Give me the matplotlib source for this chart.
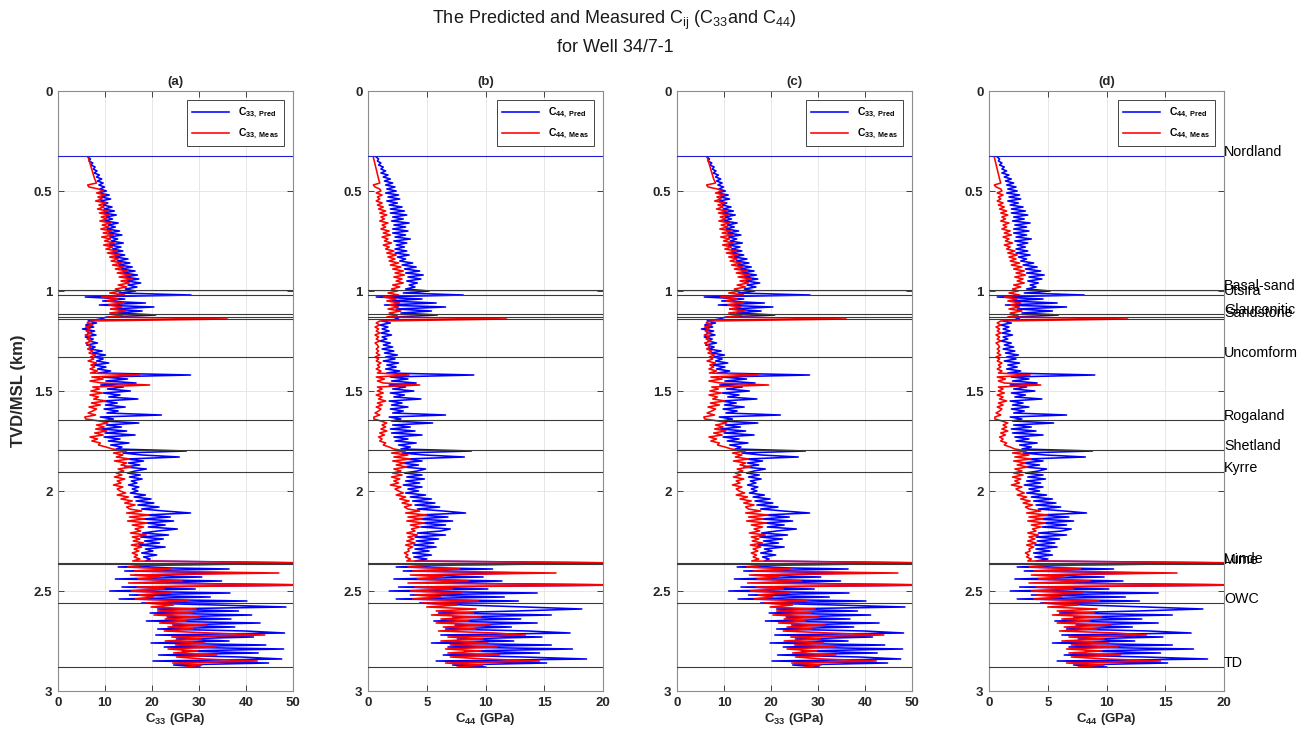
import numpy as np
import matplotlib
matplotlib.use("Agg")
import matplotlib.pyplot as plt
from matplotlib.transforms import blended_transform_factory

plt.rcParams['font.family'] = ['Liberation Sans', 'DejaVu Sans']
plt.rcParams['mathtext.fontset'] = 'custom'
plt.rcParams['mathtext.rm'] = 'Liberation Sans'
plt.rcParams['mathtext.it'] = 'Liberation Sans'
plt.rcParams['mathtext.bf'] = 'Liberation Sans:bold'

# ---- log samples (TVD/MSL in km) ----
depth_pred = np.round(np.arange(0.33, 2.885, 0.01), 2)
depth_meas = np.concatenate([[0.33, 0.44], np.round(np.arange(0.46, 2.885, 0.01), 2)])

c33_pred = [
    6.4, 6.9, 6.6, 7.4, 7.0, 7.9, 7.5,
    8.3, 7.7, 8.8, 8.2, 9.3, 8.4, 9.6, 8.7, 9.9, 8.9,
    10.3, 8.6, 10.9, 9.2, 11.2, 9.0, 10.6, 9.6, 11.5, 9.8,
    12.0, 9.6, 12.4, 10.2, 11.6, 9.9, 12.8, 10.7, 12.2, 10.4,
    13.1, 10.8, 13.6, 11.0, 12.7, 11.3, 13.9, 10.9, 13.4, 11.6,
    13.8, 11.4, 14.2, 12.1, 14.9, 12.6, 15.3, 12.9, 15.8, 13.4,
    16.4, 13.8, 16.9, 14.2, 17.2, 14.6, 17.6, 14.9, 16.8, 14.3,
    16.5, 13.0, 28.3, 5.8, 14.2, 9.5, 18.6, 8.8, 20.4, 11.2,
    17.9, 12.6, 20.8, 10.4, 9.0, 6.4, 8.2, 5.9, 7.6, 5.2,
    7.8, 6.3, 8.1, 5.8, 7.5, 6.6, 8.4, 6.1, 7.9, 6.8,
    9.4, 7.3, 10.1, 7.8, 9.6, 8.2, 10.8, 7.6, 10.2, 8.4,
    11.2, 8.6, 28.2, 9.4, 14.8, 10.2, 16.6, 9.1, 13.9, 10.5,
    15.4, 9.6, 13.2, 10.8, 17.0, 9.3, 12.6, 10.1, 14.3, 9.8,
    12.8, 10.4, 22.0, 9.0, 11.8, 9.6, 17.2, 10.3, 13.5, 9.2,
    14.6, 10.0, 16.4, 9.8, 13.2, 10.7, 15.1, 11.2, 13.6, 12.4,
    27.3, 13.8, 17.9, 25.8, 14.6, 18.2, 15.0, 17.4, 14.2, 18.8,
    16.4, 14.8, 17.5, 15.2, 17.9, 15.6, 16.8, 15.0, 17.2, 15.8,
    17.0, 15.4, 18.6, 16.2, 19.8, 16.6, 20.4, 17.0, 21.5, 17.8,
    22.6, 28.2, 18.4, 23.9, 17.9, 24.6, 18.6, 22.8, 19.2, 25.4,
    21.2, 18.0, 23.5, 17.6, 22.4, 18.4, 21.6, 17.2, 22.8, 18.6,
    20.2, 17.8, 21.0, 18.2, 19.6, 18.6,
    55.0, 24.6, 12.8, 36.4,
    14.2, 37.8, 16.5, 30.6, 12.2, 34.8, 18.4, 55.0, 13.6, 29.2,
    11.0, 36.6, 15.2, 32.4, 13.0, 40.2, 17.8, 33.6, 48.5, 21.2,
    38.4, 19.6, 41.2, 23.2, 36.8, 18.8, 43.0, 24.4, 37.6, 21.2,
    39.8, 48.2, 20.8, 41.6, 25.2, 36.4, 19.8, 44.2, 22.6, 48.0,
    26.4, 42.6, 21.4, 38.8, 47.6, 20.2, 44.8, 24.6, 30.2,
]

c33_meas = [
    6.4, 7.8,
    8.2, 6.3, 6.6, 8.6,
    9.6, 8.2, 10.0, 8.5, 9.4, 8.0, 10.2, 8.7, 9.8, 8.4,
    10.6, 8.8, 10.9, 9.2, 10.4, 8.9, 11.2, 9.4, 10.8, 9.1,
    11.4, 9.6, 11.8, 9.3, 11.2, 9.9, 12.0, 9.7, 11.6, 10.2,
    12.6, 10.5, 13.0, 11.0, 12.8, 11.3, 13.6, 11.6, 14.0, 12.2,
    14.8, 12.6, 15.4, 13.0, 15.8, 13.4, 15.2, 12.8, 14.6, 12.2,
    13.4, 11.0, 14.2, 9.2, 12.8, 10.4, 14.0, 10.8, 13.6, 11.2,
    14.4, 11.0, 13.8, 10.6, 36.0, 7.0, 6.2, 7.4, 5.9, 6.8,
    6.0, 7.1, 5.8, 6.9, 6.2, 7.2, 5.9, 6.6, 7.0, 6.3,
    7.4, 6.6, 8.0, 6.9, 7.6, 6.4, 8.2, 7.0, 7.8, 6.8,
    8.4, 6.9, 17.4, 7.2, 9.6, 6.8, 9.2, 19.5, 7.4, 8.8,
    7.0, 9.4, 6.8, 8.6, 7.6, 10.2, 7.1, 9.0, 6.6, 8.2,
    7.4, 6.4, 8.0, 5.7, 5.9, 8.8, 10.6, 8.2, 9.8, 8.0,
    10.4, 7.8, 9.6, 6.8, 8.4, 7.2, 9.0, 8.6, 10.2, 11.6,
    14.6, 11.8, 13.8, 12.4, 15.2, 12.0, 14.6, 13.4, 15.6, 12.8,
    14.0, 12.4, 13.6, 12.0, 14.2, 12.6, 13.4, 11.8, 13.8, 12.6,
    13.2, 14.4, 12.6, 15.0, 13.4, 15.8, 14.2, 16.4, 14.6, 15.2,
    17.8, 14.6, 19.4, 15.2, 18.4, 14.8, 19.0, 15.8, 18.2, 16.4,
    17.6, 15.4, 18.8, 15.8, 17.4, 16.0, 18.2, 15.6, 17.8, 16.2,
    17.2, 15.8, 16.9, 16.2, 17.4, 15.9,
    55.0, 18.6, 14.8, 24.2,
    16.2, 47.0, 15.4, 21.8, 17.0, 26.4, 15.0, 55.0, 16.8, 22.6,
    15.6, 24.0, 17.2, 20.4, 16.4, 27.8, 18.6, 24.6, 19.8, 29.4,
    21.2, 28.6, 20.4, 30.2, 22.8, 27.4, 21.6, 31.6, 23.4, 28.8,
    22.6, 32.4, 44.0, 24.2, 30.6, 22.8, 31.2, 25.0, 33.6, 23.4,
    29.8, 24.6, 33.8, 25.2, 31.0, 42.4, 24.4, 30.6, 27.2,
]

c44_pred = [
    0.7, 0.9, 0.8, 1.1, 0.9, 1.3, 1.1,
    1.5, 1.1, 1.7, 1.3, 1.9, 1.4, 2.1, 1.5, 2.3, 1.6,
    2.4, 1.5, 2.6, 1.7, 2.7, 1.6, 2.5, 1.8, 2.9, 1.9,
    3.1, 1.9, 3.3, 2.1, 3.0, 2.0, 3.5, 2.2, 3.2, 2.1,
    3.4, 2.1, 3.2, 2.3, 3.6, 2.2, 3.3, 2.4, 3.1, 2.3,
    3.3, 2.3, 3.5, 2.5, 3.2, 2.7, 3.8, 2.9, 4.1, 3.1,
    4.4, 3.2, 4.7, 3.4, 4.5, 3.3, 4.2, 3.5, 4.0, 3.2,
    5.2, 3.0, 8.1, 0.7, 4.6, 1.8, 5.8, 1.4, 6.6, 2.4,
    5.4, 2.8, 5.9, 2.2, 2.6, 1.2, 1.9, 1.0, 1.7, 1.2,
    1.8, 1.1, 2.0, 1.2, 1.6, 1.0, 1.9, 1.3, 2.1, 1.2,
    2.2, 1.4, 2.5, 1.5, 2.3, 1.3, 2.6, 1.6, 2.4, 1.5,
    2.7, 1.6, 9.0, 1.9, 3.4, 2.0, 4.1, 1.8, 3.2, 2.1,
    3.9, 1.9, 3.1, 2.2, 4.5, 1.8, 2.9, 2.0, 3.4, 1.9,
    3.0, 2.1, 6.6, 1.8, 2.8, 2.0, 5.5, 2.1, 3.6, 1.9,
    4.0, 2.0, 4.6, 2.2, 3.4, 2.3, 4.1, 2.6, 3.6, 2.8,
    8.8, 2.9, 4.8, 8.2, 3.2, 4.6, 2.8, 4.3, 3.0, 4.9,
    4.2, 3.1, 4.6, 3.3, 4.8, 3.2, 4.4, 3.0, 4.6, 3.4,
    4.3, 3.2, 4.9, 3.6, 5.4, 3.8, 5.7, 4.0, 6.1, 4.2,
    6.4, 8.3, 4.2, 6.8, 4.0, 7.2, 4.4, 6.6, 4.5, 7.0,
    6.2, 4.2, 6.6, 4.0, 6.0, 4.1, 5.6, 3.9, 5.8, 4.0,
    5.2, 3.8, 5.4, 3.9, 5.0, 4.0,
    22.0, 7.6, 2.4, 10.6,
    3.0, 13.2, 4.4, 9.8, 2.2, 11.4, 5.0, 22.0, 2.6, 10.2,
    1.8, 14.4, 3.6, 11.6, 2.4, 12.8, 4.4, 8.2, 13.4, 18.2,
    12.6, 6.0, 15.6, 7.2, 13.0, 5.6, 14.4, 7.4, 12.2, 6.6,
    13.6, 17.2, 6.2, 14.8, 7.6, 12.4, 5.4, 15.6, 6.8, 17.4,
    8.2, 14.6, 6.4, 13.2, 18.6, 5.8, 15.2, 7.2, 10.0,
]

c44_meas = [
    0.45, 0.9,
    1.0, 0.45, 0.6, 1.0,
    1.1, 0.7, 1.2, 0.8, 1.0, 0.7, 1.2, 0.8, 1.3, 0.9,
    1.5, 1.0, 1.6, 1.1, 1.4, 1.0, 1.7, 1.2, 1.5, 1.1,
    1.8, 1.3, 1.9, 1.2, 1.7, 1.4, 2.0, 1.3, 1.8, 1.5,
    2.2, 1.6, 2.4, 1.7, 2.3, 1.8, 2.6, 1.9, 2.8, 2.1,
    3.0, 2.3, 3.1, 2.2, 2.9, 2.4, 3.0, 2.1, 2.7, 2.0,
    2.5, 1.7, 2.6, 1.3, 2.4, 1.6, 2.7, 1.8, 2.6, 1.7,
    2.8, 1.8, 2.5, 1.6, 11.8, 1.0, 0.7, 1.0, 0.6, 0.9,
    0.7, 1.0, 0.6, 0.9, 0.7, 1.0, 0.6, 0.8, 0.9, 0.7,
    0.9, 0.7, 1.0, 0.6, 0.9, 0.7, 1.1, 0.8, 1.0, 0.7,
    1.1, 0.8, 3.5, 0.7, 1.4, 0.8, 1.3, 4.4, 0.8, 1.2,
    0.8, 1.3, 0.7, 1.2, 0.9, 1.5, 0.8, 1.2, 0.7, 1.1,
    0.9, 0.6, 1.0, 0.5, 0.5, 1.1, 1.6, 1.2, 1.5, 1.1,
    1.6, 1.0, 1.4, 0.9, 1.2, 1.0, 1.5, 1.3, 1.8, 2.2,
    3.2, 2.0, 3.4, 2.2, 3.6, 2.1, 3.1, 2.4, 3.3, 2.2,
    2.8, 2.1, 2.9, 2.0, 2.7, 2.2, 2.6, 1.9, 2.8, 2.3,
    2.6, 3.0, 2.4, 3.2, 2.7, 3.5, 2.9, 3.7, 3.1, 3.4,
    4.4, 3.2, 5.0, 3.4, 4.6, 3.3, 4.8, 3.6, 4.4, 3.7,
    4.0, 3.3, 4.2, 3.4, 3.9, 3.3, 4.0, 3.2, 3.8, 3.4,
    3.5, 3.1, 3.4, 3.2, 3.6, 3.3,
    22.0, 5.2, 3.4, 7.8,
    3.8, 16.0, 3.6, 6.4, 4.2, 8.6, 3.4, 22.0, 4.0, 7.2,
    3.6, 8.0, 4.0, 6.2, 3.8, 9.4, 4.6, 7.6, 5.0, 9.2,
    5.8, 9.0, 5.4, 9.6, 6.2, 8.6, 5.8, 10.4, 6.4, 9.2,
    6.0, 10.8, 13.4, 6.8, 9.8, 6.2, 10.2, 7.0, 11.0, 6.6,
    9.6, 6.8, 11.2, 7.0, 10.0, 14.6, 6.6, 9.8, 7.6,
]

# ---- formation tops (km) ----
formation_names = ["Nordland", "Basal-sand", "Utsira", "Glauconitic", "Sandstone", "",
                   "Uncomform", "Rogaland", "Shetland", "Kyrre", "Lunde", "Mime",
                   "OWC", "TD"]
formation_depths = [0.325, 0.997, 1.02, 1.117, 1.131, 1.142,
                    1.33, 1.647, 1.797, 1.907, 2.36, 2.365,
                    2.562, 2.882]

panel_titles = ["(a)", "(b)", "(c)", "(d)"]
panel_params = ["33", "44", "33", "44"]
panel_xmax = [50, 20, 50, 20]
y_ticks = [0, 0.5, 1, 1.5, 2, 2.5, 3]
y_tick_labels = ["0", "0.5", "1", "1.5", "2", "2.5", "3"]

series = {"33": (c33_pred, c33_meas), "44": (c44_pred, c44_meas)}

fig = plt.figure(figsize=(13.11, 7.33), dpi=100)
lefts = [58, 368, 677, 989]
W, H = 1311, 733
axes = []
for i, left in enumerate(lefts):
    ax = fig.add_axes([left / W, (H - 691) / H, 235 / W, 600 / H])
    axes.append(ax)
    p = panel_params[i]
    pred, meas = series[p]
    ax.plot(pred, depth_pred, color="#0000ff", lw=1.15,
            label=r"$\mathbf{C_{%s,\ Pred}}$" % p, zorder=3)
    ax.plot(meas, depth_meas, color="#ff0000", lw=1.15,
            label=r"$\mathbf{C_{%s,\ Meas}}$" % p, zorder=4)
    for name, d in zip(formation_names, formation_depths):
        col = "#1f1fd0" if name == "Nordland" else "#3a3a3a"
        ax.axhline(d, color=col, lw=0.8, zorder=5)
    ax.set_xlim(0, panel_xmax[i])
    ax.set_ylim(3, 0)
    ax.set_yticks(y_ticks)
    ax.set_yticklabels(y_tick_labels)
    if panel_xmax[i] == 50:
        ax.set_xticks([0, 10, 20, 30, 40, 50])
    else:
        ax.set_xticks([0, 5, 10, 15, 20])
    ax.grid(True, color="#e3e3e3", lw=0.6, zorder=0)
    ax.set_axisbelow(True)
    ax.tick_params(direction="in", top=True, right=True, length=4, width=0.6,
                   labelsize=9.5, colors="#262626", pad=4)
    for lab in ax.get_xticklabels() + ax.get_yticklabels():
        lab.set_fontweight("bold")
    for s in ax.spines.values():
        s.set_color("#8c8c8c")
        s.set_linewidth(0.8)
    ax.set_xlabel(r"$\mathbf{C_{%s}}$ (GPa)" % p, fontsize=9.5, fontweight="bold",
                  labelpad=2, color="#262626")
    ax.set_title(panel_titles[i], fontsize=9.5, fontweight="bold", pad=4,
                 color="#262626")
    leg = ax.legend(loc="upper right", fontsize=7.5, handlelength=3.6,
                    fancybox=False, framealpha=1, edgecolor="#262626",
                    borderaxespad=0.9, borderpad=0.5, labelspacing=0.6)
    leg.get_frame().set_linewidth(0.6)

axes[0].set_ylabel("TVD/MSL (km)", fontsize=12, fontweight="bold", labelpad=6,
                   color="#262626")

# formation names beside the last track (some tops share nearly the same depth)
trans = blended_transform_factory(axes[3].transAxes, axes[3].transData)
for name, d in zip(formation_names, formation_depths):
    if name:
        axes[3].text(1.0, d, name, transform=trans, ha="left", va="baseline",
                     fontsize=10.3, color="black", clip_on=False)

fig.text(0.469, 0.972, r"The Predicted and Measured C$_{ij}$ (C$_{33}$and C$_{44}$)",
         ha="center", va="center", fontsize=13, color="#1a1a1a")
fig.text(0.469, 0.935, "for Well 34/7-1", ha="center", va="center",
         fontsize=13, color="#1a1a1a")

fig.savefig("out.png", dpi=100)
